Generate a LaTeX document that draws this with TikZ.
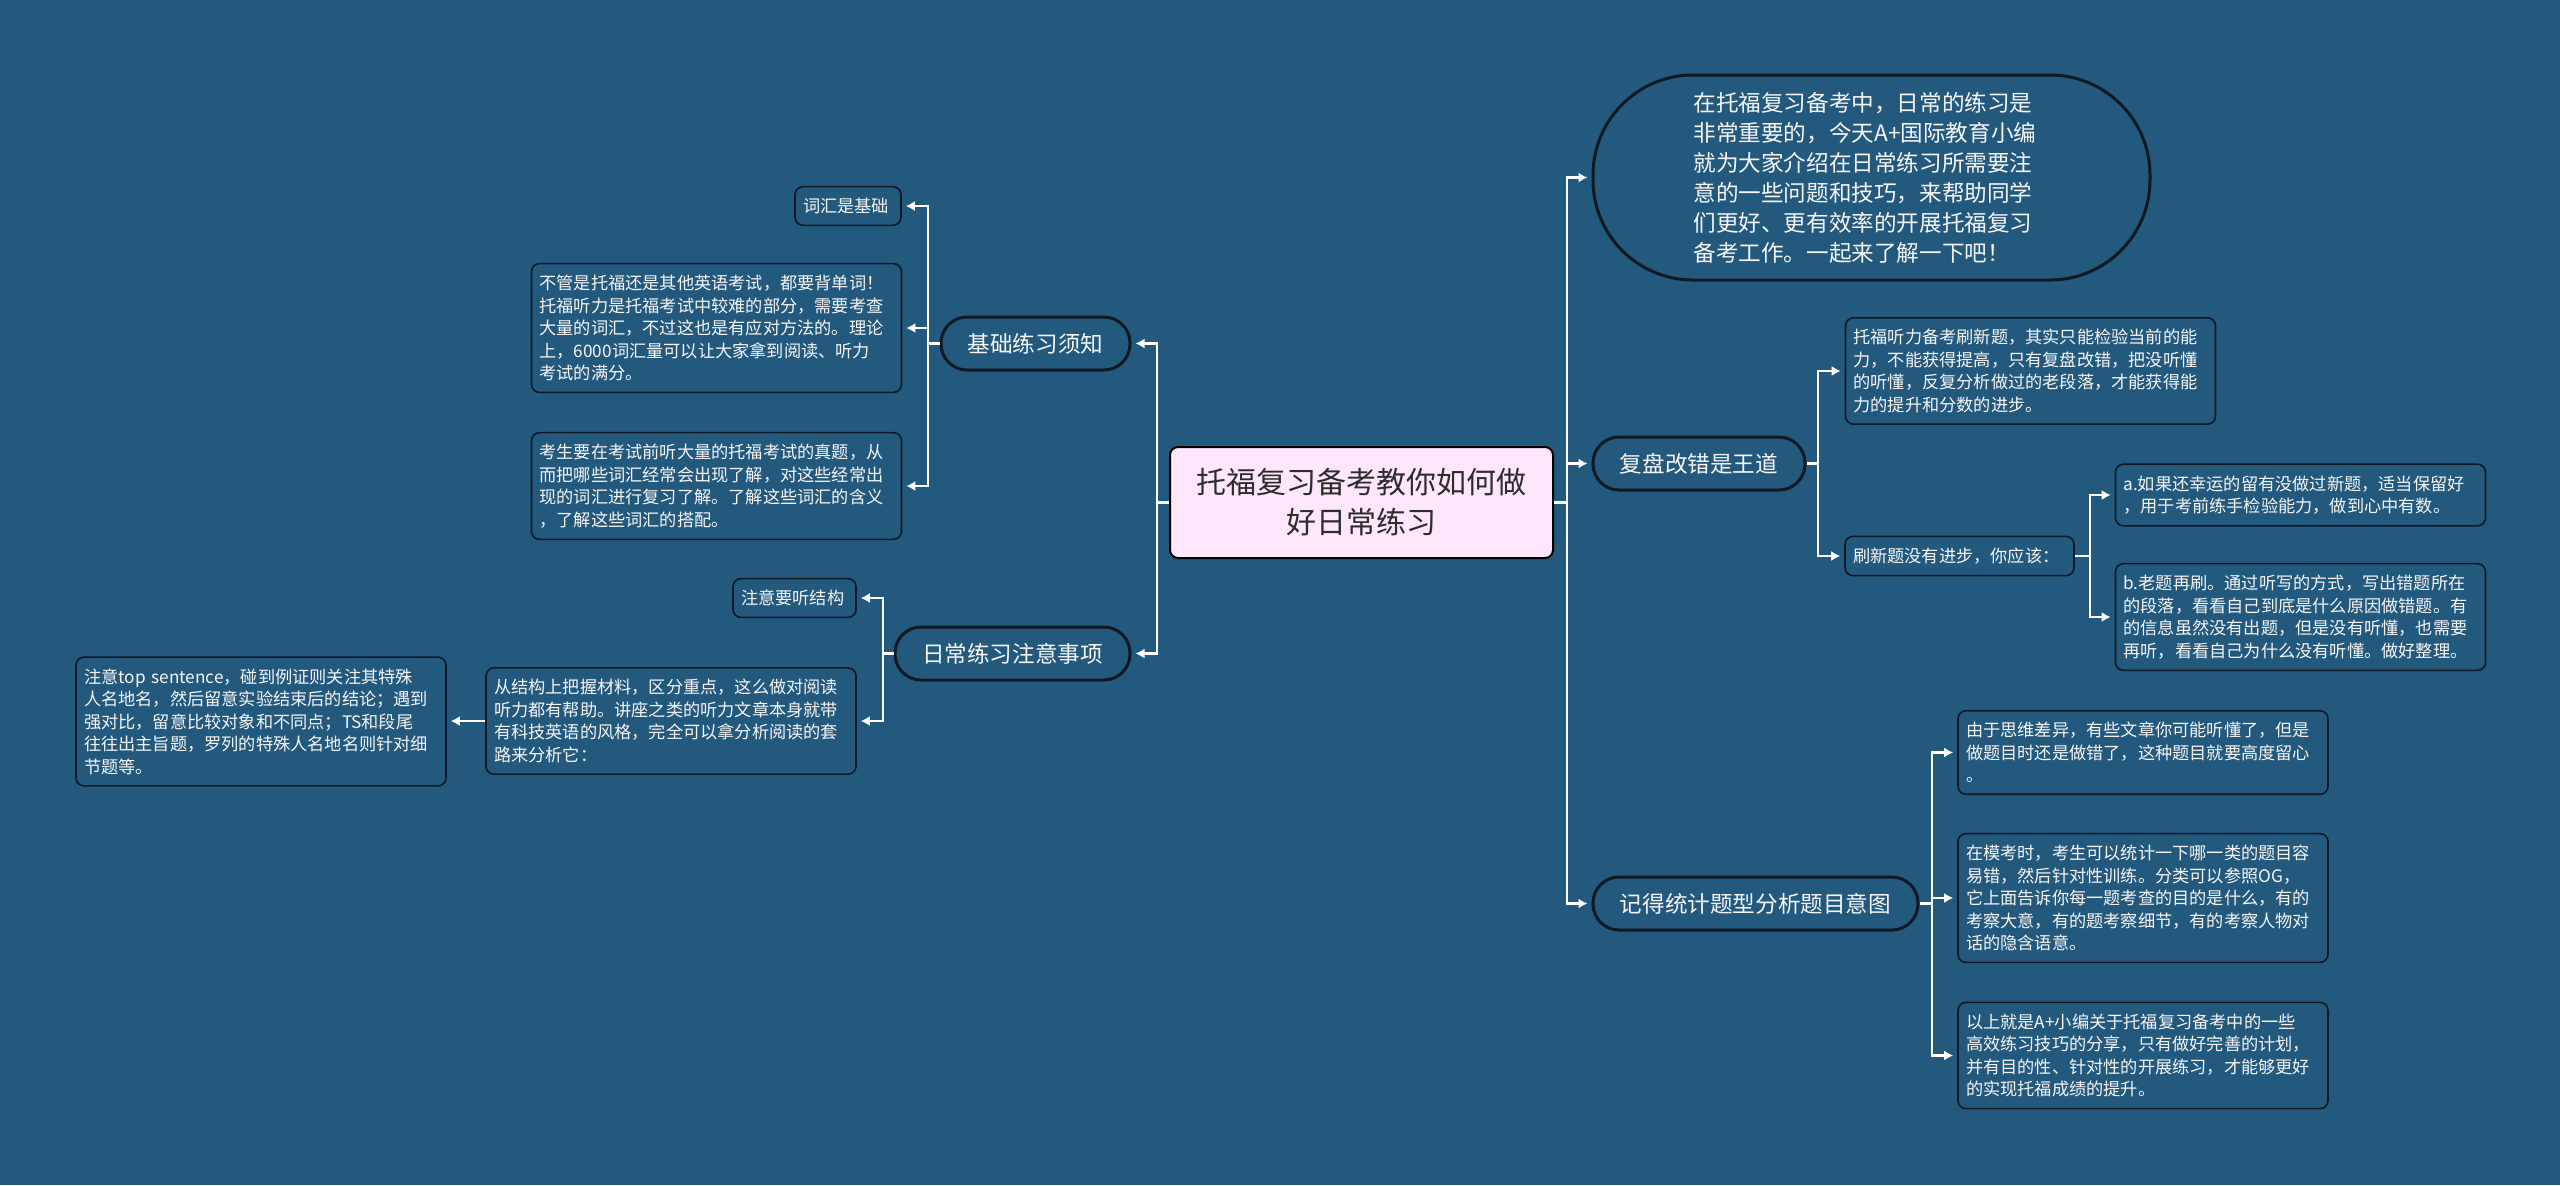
\documentclass[tikz,border=0pt]{standalone}
\usepackage{fontspec}
\setmainfont{Noto Sans CJK SC}
\usepackage{tikz}
\usetikzlibrary{arrows.meta,calc}
\definecolor{MapBlue}{RGB}{36,89,126}
\definecolor{MapEdge}{RGB}{16,24,36}
\definecolor{RootPink}{RGB}{255,230,250}
\definecolor{RootText}{RGB}{45,45,45}
\definecolor{LeafText}{RGB}{246,246,246}

\begin{document}
\begin{tikzpicture}[x=0.5pt,y=-0.5pt,
  >={Latex[length=4.5pt,width=5pt]},
  link/.style={->,draw=white,line width=1.4pt,shorten >=2pt},
  rootbox/.style={draw=black,fill=RootPink,line width=1pt,rounded corners=4pt,
                  text=RootText,align=center,inner sep=0pt,
                  font=\fontsize{15pt}{20pt}\selectfont},
  topic/.style={draw=MapEdge,fill=MapBlue,line width=1.5pt,rounded corners=13pt,
                text=LeafText,align=center,inner sep=0pt,minimum height=26.5pt,
                font=\fontsize{11.3pt}{15pt}\selectfont},
  leaf/.style={draw=MapEdge,fill=MapBlue,line width=0.8pt,rounded corners=4pt,
               text=LeafText,align=left,inner xsep=4pt,inner ysep=5.7pt,text width=177pt,
               font=\fontsize{8.6pt}{11.25pt}\selectfont},
]
\useasboundingbox (0,0) rectangle (2560,1185);
\fill[MapBlue] (0,0) rectangle (2560,1185);

\node[rootbox,minimum width=191.5pt,minimum height=55.5pt] (root) at (1361.5,502.5)
  {托福复习备考教你如何做\\好日常练习};

\node[topic,minimum width=94.5pt] (basic) at (1035.5,343.5) {基础练习须知};
\node[topic,minimum width=117.5pt] (daily) at (1012.5,653.5) {日常练习注意事项};
\node[topic,rounded corners=50pt,minimum width=278.5pt,minimum height=102.5pt,
      align=left,text width=178pt] (intro) at (1871.5,177.5)
  {在托福复习备考中，日常的练习是\\非常重要的，今天A+国际教育小编\\就为大家介绍在日常练习所需要注\\意的一些问题和技巧，来帮助同学\\们更好、更有效率的开展托福复习\\备考工作。一起来了解一下吧！};
\node[topic,minimum width=106pt] (review) at (1699,463.5) {复盘改错是王道};
\node[topic,minimum width=162.5pt] (stats) at (1755.5,903.5) {记得统计题型分析题目意图};

\node[leaf,text width=45pt] (vocab) at (848,206) {词汇是基础};
\node[leaf] (word1) at (716.5,328)
  {不管是托福还是其他英语考试，都要背单词！\\托福听力是托福考试中较难的部分，需要考查\\大量的词汇，不过这也是有应对方法的。理论\\上，6000词汇量可以让大家拿到阅读、听力\\考试的满分。};
\node[leaf] (word2) at (716.5,486)
  {考生要在考试前听大量的托福考试的真题，从\\而把哪些词汇经常会出现了解，对这些经常出\\现的词汇进行复习了解。了解这些词汇的含义\\，了解这些词汇的搭配。};
\node[leaf,text width=53.5pt] (struct) at (794.5,598) {注意要听结构};
\node[leaf] (read) at (671,721)
  {从结构上把握材料，区分重点，这么做对阅读\\听力都有帮助。讲座之类的听力文章本身就带\\有科技英语的风格，完全可以拿分析阅读的套\\路来分析它：};
\node[leaf] (topsent) at (261,721.5)
  {注意top~sentence，碰到例证则关注其特殊\\人名地名，然后留意实验结束后的结论；遇到\\强对比，留意比较对象和不同点；TS和段尾\\往往出主旨题，罗列的特殊人名地名则针对细\\节题等。};

\node[leaf] (relisten) at (2030.5,371)
  {托福听力备考刷新题，其实只能检验当前的能\\力，不能获得提高，只有复盘改错，把没听懂\\的听懂，反复分析做过的老段落，才能获得能\\力的提升和分数的进步。};
\node[leaf,text width=106.5pt] (noprog) at (1959.5,556) {刷新题没有进步，你应该：};
\node[leaf] (opta) at (2300.5,495)
  {a.如果还幸运的留有没做过新题，适当保留好\\，用于考前练手检验能力，做到心中有数。};
\node[leaf] (optb) at (2300.5,617)
  {b.老题再刷。通过听写的方式，写出错题所在\\的段落，看看自己到底是什么原因做错题。有\\的信息虽然没有出题，但是没有听懂，也需要\\再听，看看自己为什么没有听懂。做好整理。};
\node[leaf] (think) at (2143,752.5)
  {由于思维差异，有些文章你可能听懂了，但是\\做题目时还是做错了，这种题目就要高度留心\\。};
\node[leaf] (mock) at (2143,898)
  {在模考时，考生可以统计一下哪一类的题目容\\易错，然后针对性训练。分类可以参照OG，\\它上面告诉你每一题考查的目的是什么，有的\\考察大意，有的题考察细节，有的考察人物对\\话的隐含语意。};
\node[leaf] (summary) at (2143,1055.5)
  {以上就是A+小编关于托福复习备考中的一些\\高效练习技巧的分享，只有做好完善的计划，\\并有目的性、针对性的开展练习，才能够更好\\的实现托福成绩的提升。};

\coordinate (lspine) at (1157,0);
\coordinate (rspine) at (1567,0);
\coordinate (bspine) at (928,0);
\coordinate (dspine) at (883,0);
\coordinate (vspine) at (1818,0);
\coordinate (pspine) at (2090,0);
\coordinate (sspine) at (1932,0);

\foreach \kid in {basic,daily}
  \draw[link] (root.west) -- (root.west -| lspine) |- (\kid.east);
\foreach \kid in {intro,review,stats}
  \draw[link] (root.east) -- (root.east -| rspine) |- (\kid.west);
\foreach \kid in {vocab,word1,word2}
  \draw[link] (basic.west) -- (basic.west -| bspine) |- (\kid.east);
\foreach \kid in {struct,read}
  \draw[link] (daily.west) -- (daily.west -| dspine) |- (\kid.east);
\draw[link] (read.west) -- (read.west -| topsent.east);
\foreach \kid in {relisten,noprog}
  \draw[link] (review.east) -- (review.east -| vspine) |- (\kid.west);
\foreach \kid in {opta,optb}
  \draw[link] (noprog.east) -- (noprog.east -| pspine) |- (\kid.west);
\foreach \kid in {think,mock,summary}
  \draw[link] (stats.east) -- (stats.east -| sspine) |- (\kid.west);
\end{tikzpicture}
\end{document}
